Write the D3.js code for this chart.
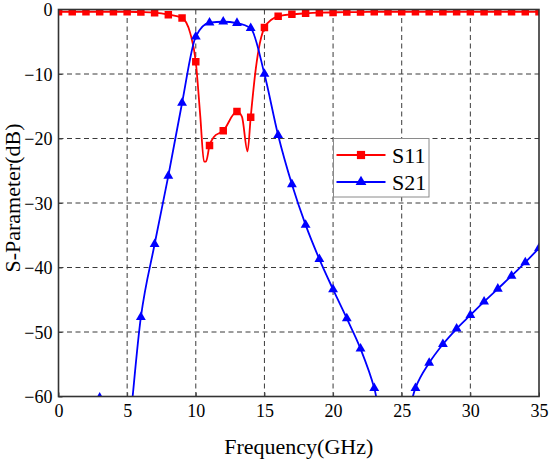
<!DOCTYPE html>
<html>
<head>
<meta charset="utf-8">
<script src="https://cdn.jsdelivr.net/npm/d3@7"></script>
<style>
  body { margin: 0; background: #fff; }
  svg text { font-family: "Liberation Serif", "DejaVu Serif", serif; fill: #000; }
</style>
</head>
<body>
<div class="chart"></div>
<script>
// values
var xTicks = [0, 5, 10, 15, 20, 25, 30, 35];
var yTicks = [0, -10, -20, -30, -40, -50, -60];

var s11Freq = [0, 1, 2, 3, 4, 5, 6, 7, 8, 9, 9.6, 10, 10.33, 10.6, 10.74, 11, 11.3, 12, 13,
  13.36, 13.77, 14, 14.33, 14.57, 15, 15.5, 16, 17, 18, 19, 20, 21, 22, 23, 24, 25, 26, 27,
  28, 29, 30, 31, 32, 33, 34, 35];
var s11Db = [-0.35, -0.35, -0.35, -0.35, -0.35, -0.35, -0.4, -0.5, -0.8, -1.3, -3.7, -8.1,
  -16.6, -23.6, -23.6, -21.1, -19.8, -18.8, -15.8, -16.6, -22.0, -16.7, -9.9, -6.3, -2.8,
  -1.6, -1.05, -0.75, -0.6, -0.5, -0.45, -0.4, -0.4, -0.35, -0.35, -0.35, -0.35, -0.35,
  -0.35, -0.35, -0.35, -0.35, -0.35, -0.35, -0.35, -0.35];

var s21Freq = [3, 4, 5, 6, 7, 8, 9, 10, 11, 12, 13, 14, 15, 16, 17, 18, 19, 20, 21, 22, 23,
  24, 25, 26, 27, 28, 29, 30, 31, 32, 33, 34, 35];
var s21Db = [-60.2, -80, -68, -47.7, -36.4, -25.8, -14.5, -4.2, -2.05, -1.9, -2.1, -2.9,
  -10.0, -19.5, -27.1, -33.4, -38.7, -43.4, -47.9, -52.6, -58.7, -68, -66, -58.7, -54.8,
  -51.9, -49.5, -47.4, -45.3, -43.3, -41.3, -39.2, -37.0];

var svgWidth = 550;
var svgHeight = 461;
var serif = '"Liberation Serif", "DejaVu Serif", serif';

var margin = {
  top: 9.5,
  right: 11,
  bottom: 64.5,
  left: 58.5,
};

var width = svgWidth - margin.left - margin.right;
var height = svgHeight - margin.top - margin.bottom;

var svg = d3
  .select(".chart")
  .append("svg")
  .attr("width", svgWidth)
  .attr("height", svgHeight)
  .attr("font-family", serif);

var chartGroup = svg
  .append("g")
  .attr("transform", `translate(${margin.left}, ${margin.top})`);

var xScale = d3.scaleLinear().domain([0, 35]).range([0, width]);
var yScale = d3.scaleLinear().domain([-60, 0]).range([height, 0]);

// clip for the curves and markers
chartGroup
  .append("clipPath")
  .attr("id", "plotClip")
  .append("rect")
  .attr("width", width)
  .attr("height", height);

// dashed grid
chartGroup
  .append("g")
  .selectAll("line")
  .data(xTicks.slice(1, -1))
  .enter()
  .append("line")
  .attr("x1", (d) => xScale(d))
  .attr("x2", (d) => xScale(d))
  .attr("y1", 0)
  .attr("y2", height)
  .attr("stroke", "#3a3a3a")
  .attr("stroke-width", 1)
  .attr("stroke-dasharray", "5,3.5");

chartGroup
  .append("g")
  .selectAll("line")
  .data(yTicks.slice(1, -1))
  .enter()
  .append("line")
  .attr("x1", 0)
  .attr("x2", width)
  .attr("y1", (d) => yScale(d))
  .attr("y2", (d) => yScale(d))
  .attr("stroke", "#3a3a3a")
  .attr("stroke-width", 1)
  .attr("stroke-dasharray", "5,3.5");

// axes with inward ticks
var bottomAxis = d3.axisBottom(xScale).tickValues(xTicks).tickSize(-4).tickPadding(8).tickFormat(d3.format("d"));
var leftAxis = d3.axisLeft(yScale).tickValues(yTicks).tickSize(-4).tickPadding(6).tickFormat(d3.format("d"));

var xAxis = chartGroup.append("g").attr("transform", `translate(0,${height})`).call(bottomAxis);
var yAxis = chartGroup.append("g").call(leftAxis);

[xAxis, yAxis].forEach((ax) => {
  ax.attr("font-family", serif).attr("font-size", 18);
  ax.select(".domain").remove();
  ax.selectAll(".tick line").attr("stroke", "#444").attr("stroke-width", 1);
  ax.selectAll(".tick text").attr("fill", "#000");
});
xAxis.selectAll(".tick text").attr("dy", "0.72em");
yAxis.selectAll(".tick text").attr("dy", "0.34em");

// curves
var series = [
  { name: "S11", freq: s11Freq, db: s11Db, color: "#ff0000", symbol: d3.symbolSquare, size: 56 },
  { name: "S21", freq: s21Freq, db: s21Db, color: "#0000ff", symbol: d3.symbolTriangle, size: 42 },
];

var lineGen = d3
  .line()
  .curve(d3.curveMonotoneX)
  .x((d) => xScale(d.f))
  .y((d) => yScale(d.v));

var plotGroup = chartGroup.append("g").attr("clip-path", "url(#plotClip)");

series.forEach((s) => {
  var pts = s.freq.map((f, i) => ({ f: f, v: s.db[i] }));

  plotGroup
    .append("path")
    .datum(pts)
    .attr("fill", "none")
    .attr("stroke", s.color)
    .attr("stroke-width", 1.8)
    .attr("d", lineGen);

  // markers sit on the whole-GHz samples
  plotGroup
    .append("g")
    .selectAll("path")
    .data(pts.filter((d) => Number.isInteger(d.f)))
    .enter()
    .append("path")
    .attr("transform", (d) => `translate(${xScale(d.f)},${yScale(d.v)})`)
    .attr("d", d3.symbol().type(s.symbol).size(s.size))
    .attr("fill", s.color);
});

// frame
chartGroup
  .append("rect")
  .attr("width", width)
  .attr("height", height)
  .attr("fill", "none")
  .attr("stroke", "#333")
  .attr("stroke-width", 1.6);

// axis titles
chartGroup
  .append("text")
  .attr("x", width / 2)
  .attr("y", height + 57.5)
  .attr("font-family", serif)
  .style("text-anchor", "middle")
  .style("font-size", "22px")
  .text("Frequency(GHz)");

chartGroup
  .append("text")
  .attr("transform", "rotate(-90)")
  .attr("x", -height / 2 + 5)
  .attr("y", -margin.left + 20)
  .attr("font-family", serif)
  .style("text-anchor", "middle")
  .style("font-size", "22px")
  .text("S-Parameter(dB)");

// legend
var legend = chartGroup
  .append("g")
  .attr("transform", `translate(${333.5 - margin.left}, ${138.5 - margin.top})`);

legend
  .append("rect")
  .attr("width", 95.5)
  .attr("height", 58.5)
  .attr("fill", "#fff")
  .attr("stroke", "#8a8a8a")
  .attr("stroke-width", 1);

series.forEach((s, i) => {
  var ly = 16.5 + i * 27;
  legend
    .append("line")
    .attr("x1", 3)
    .attr("x2", 52)
    .attr("y1", ly)
    .attr("y2", ly)
    .attr("stroke", s.color)
    .attr("stroke-width", 1.8);
  legend
    .append("path")
    .attr("transform", `translate(27.5,${ly})`)
    .attr("d", d3.symbol().type(s.symbol).size(s.size * 1.2))
    .attr("fill", s.color);
  legend
    .append("text")
    .attr("x", 58.5)
    .attr("y", ly + 7.8)
    .attr("font-family", serif)
    .style("font-size", "22px")
    .text(s.name);
});
</script>
</body>
</html>
